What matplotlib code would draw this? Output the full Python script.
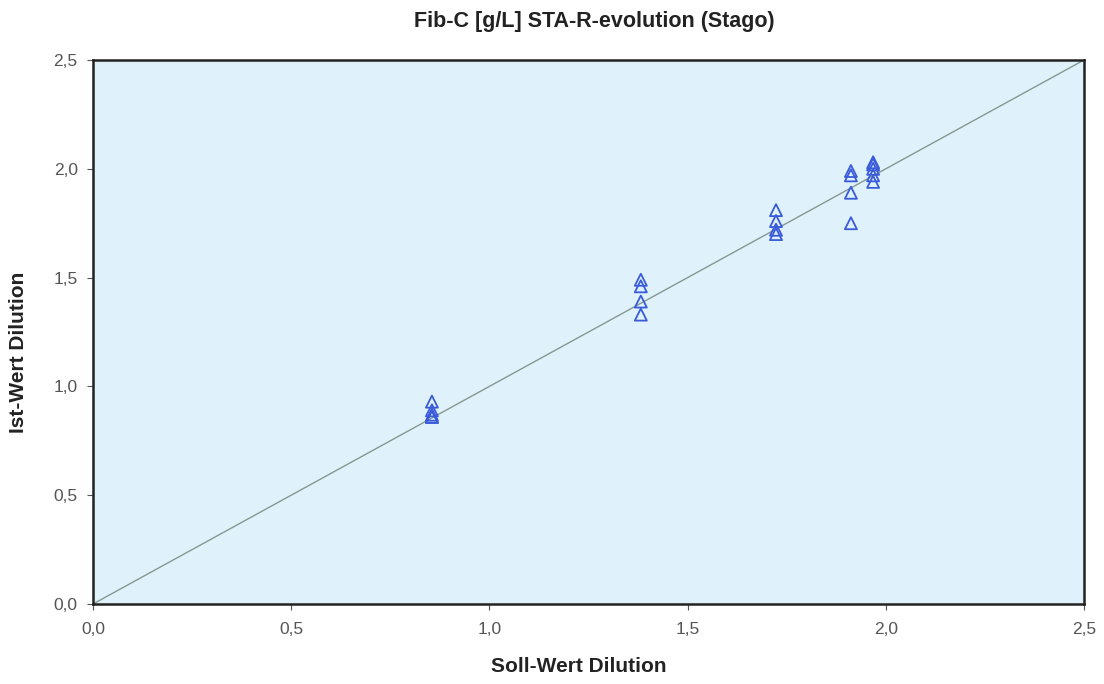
import matplotlib
matplotlib.use("Agg")
import matplotlib.pyplot as plt
from matplotlib.ticker import FuncFormatter, MultipleLocator

plt.rcParams['font.family'] = ['Liberation Sans', 'DejaVu Sans']

soll = [0.855, 0.855, 0.855, 0.855, 0.855,
        1.382, 1.382, 1.382, 1.382,
        1.723, 1.723, 1.723, 1.723,
        1.912, 1.912, 1.912, 1.912,
        1.968, 1.968, 1.968, 1.968, 1.968]
ist = [0.93, 0.89, 0.87, 0.86, 0.86,
       1.49, 1.46, 1.39, 1.33,
       1.81, 1.76, 1.72, 1.70,
       1.99, 1.97, 1.89, 1.75,
       2.03, 2.02, 2.00, 1.97, 1.94]
line_x = [0.0, 2.5]
line_y = [0.0, 2.5]

fig = plt.figure(figsize=(11.04, 6.84), dpi=100)
ax = fig.add_axes([93/1104, 1-604/684, (1084-93)/1104, (604-60)/684])
ax.set_facecolor('#dff1fb')
ax.plot(line_x, line_y, color='#86988f', lw=1.0, zorder=2)
ax.scatter(soll, ist, marker='^', s=75, facecolors='none', edgecolors='#3a5bd9',
           linewidths=1.3, zorder=3)
ax.set_xlim(0, 2.5)
ax.set_ylim(0, 2.5)
ax.xaxis.set_major_locator(MultipleLocator(0.5))
ax.yaxis.set_major_locator(MultipleLocator(0.5))
fmt = FuncFormatter(lambda v, p: f"{v:.1f}".replace('.', ','))
ax.xaxis.set_major_formatter(fmt)
ax.yaxis.set_major_formatter(fmt)
ax.tick_params(labelsize=12.5, labelcolor='#555555', length=4, color='#555555')
ax.tick_params(axis='x', pad=9)
ax.tick_params(axis='y', pad=7)
for s in ax.spines.values():
    s.set_linewidth(1.8)
    s.set_color('#222222')
ax.set_xlabel('Soll-Wert Dilution', fontsize=15, fontweight='bold', color='#222222')
ax.set_ylabel('Ist-Wert Dilution', fontsize=15, fontweight='bold', color='#222222')
ax.xaxis.set_label_coords((579-93)/991, (604-666)/544)
ax.yaxis.set_label_coords((19-93)/991, (604-352)/544)
ax.xaxis.label.set_va('center')
ax.yaxis.label.set_va('center')
fig.text(594/1104, 1 - 21/684, 'Fib-C [g/L] STA-R-evolution (Stago)',
         ha='center', va='center', fontsize=15.5, fontweight='bold', color='#222222')
fig.savefig('out.png', dpi=100)
